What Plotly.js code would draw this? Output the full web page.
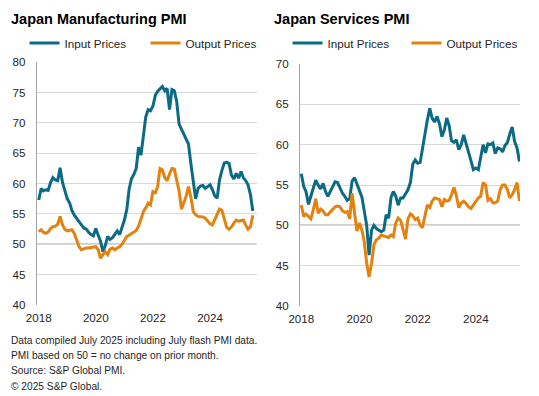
<!DOCTYPE html>
<html>
<head>
<meta charset="utf-8">
<script src="https://cdn.plot.ly/plotly-3.0.1.min.js"></script>
<style>html,body{margin:0;padding:0;background:#fff;}#chart{width:539px;height:396px;}</style>
</head>
<body>
<div id="chart"></div>
<script>
// Monthly observations, Jan 2018 .. Jul 2025
const startYear = 2018;
const nMonths = 91;
const months = [];
for (let i = 0; i < nMonths; i++) {
  const y = startYear + Math.floor(i / 12), m = (i % 12) + 1;
  months.push(y + '-' + String(m).padStart(2, '0') + '-01');
}

const seriesNames = ['Input Prices', 'Output Prices'];
const panelTitles = ['Japan Manufacturing PMI', 'Japan Services PMI'];
const xTickVals = ['2018-01-01', '2020-01-01', '2022-01-01', '2024-01-01'];
const xTickText = ['2018', '2020', '2022', '2024'];
const footnotes = [
  'Data compiled July 2025 including July flash PMI data.',
  'PMI based on 50 = no change on prior month.',
  'Source: S&P Global PMI.',
  '\u00A9 2025 S&P Global.'
];

const mfgInput = [
  57.3, 59.2, 58.8, 59.0, 58.9, 60.2, 61.0, 60.6, 60.5, 62.6, 60.2, 59.0,
  57.5, 56.8, 55.6, 54.8, 54.2, 53.8, 53.2, 52.7, 52.5, 52.0, 51.6, 51.4,
  52.6, 51.5, 50.5, 48.8, 49.8, 51.3, 50.8, 51.1, 51.6, 52.2, 51.6, 52.8,
  54.0, 55.8, 59.0, 60.8, 61.5, 62.5, 66.0, 64.7, 67.5, 71.0, 72.2, 72.0,
  72.8, 74.6, 75.2, 75.7, 76.0, 75.3, 75.7, 72.2, 75.5, 75.3, 73.5, 69.8,
  68.9, 68.2, 67.2, 66.5, 63.3, 60.0, 57.5, 59.2, 59.6, 59.7, 59.2, 59.5,
  59.8, 59.0, 58.0, 57.6, 60.6, 62.2, 63.4, 63.5, 63.3, 61.4, 60.8, 61.7,
  60.9, 62.0, 61.0, 60.5, 59.8, 58.2, 55.5
];
const mfgOutput = [
  52.1, 52.4, 52.0, 51.8, 52.0, 52.6, 52.9, 53.0, 53.3, 54.6, 53.2, 52.5,
  52.2, 52.3, 52.4, 51.8, 50.8, 49.6, 49.1, 49.3, 49.4, 49.4, 49.5, 49.6,
  49.6, 49.1, 47.7, 48.3, 48.8, 48.3, 49.2, 49.4, 49.1, 49.4, 49.6, 50.0,
  50.7, 51.3, 51.5, 51.8, 52.0, 52.3, 53.0, 54.2, 55.4, 56.0, 56.8, 56.5,
  58.7, 58.5, 59.5, 62.5, 62.3, 61.0, 60.5, 61.6, 62.5, 62.4, 60.6, 58.8,
  55.8, 57.0, 57.9, 59.5, 57.8, 55.4, 54.9, 54.6, 54.6, 54.5, 54.3, 53.8,
  53.4, 53.2, 54.0, 55.0, 55.8, 55.6, 54.4, 52.8, 52.5, 52.9, 53.5, 54.0,
  53.8, 53.9, 54.0, 53.2, 52.5, 52.9, 54.8
];
const svcInput = [
  56.4, 54.8, 54.2, 52.6, 53.6, 54.6, 55.6, 55.0, 54.5, 55.2, 54.2, 53.6,
  54.2, 55.0, 55.4, 55.3, 54.6, 54.0, 53.6, 53.1, 53.3, 55.5, 55.9, 55.0,
  54.3, 53.5, 51.7, 50.0, 46.3, 49.4, 50.0, 49.6, 49.4, 49.2, 49.4, 51.3,
  50.9, 53.5, 54.2, 53.6, 52.5, 53.4, 53.4, 54.0, 54.4, 55.3, 57.6, 58.1,
  57.7, 57.8, 59.5, 61.4, 63.0, 64.5, 63.3, 62.8, 63.5, 62.6, 61.0, 61.8,
  63.3, 62.3, 60.5, 60.3, 60.6, 59.4, 60.0, 61.2, 60.2, 59.2, 58.0, 56.9,
  57.1, 56.9, 58.2, 60.0, 59.0, 60.1, 60.0, 60.2, 58.9, 59.6, 59.5, 59.1,
  59.9, 60.3, 61.3, 62.2, 60.4, 59.6, 57.9
];
const svcOutput = [
  52.5, 51.1, 51.4, 51.1, 50.8, 51.9, 53.3, 51.5, 52.0, 51.8, 51.3, 51.3,
  51.7, 52.0, 52.3, 52.4, 52.3, 51.8, 51.6, 51.7, 50.8, 54.0, 51.5, 49.3,
  50.3, 49.4, 48.0, 45.3, 43.6, 45.3, 47.6, 48.2, 48.4, 48.8, 48.7, 48.6,
  48.5, 48.8, 48.6, 50.3, 50.9, 50.6, 49.5, 48.3, 50.8, 51.4, 51.2, 50.7,
  50.9, 50.0, 49.7, 51.0, 52.5, 52.2, 53.0, 53.4, 53.3, 53.2, 52.3, 53.2,
  53.0, 53.1, 53.8, 54.7, 53.7, 52.2, 52.8, 53.0, 52.7, 52.3, 52.1, 52.5,
  53.0, 53.4, 53.6, 55.3, 55.0, 53.1, 53.3, 52.8, 52.8, 53.0, 54.4, 55.0,
  55.0, 54.4, 53.4, 53.8, 54.4, 55.3, 53.0
];

const TEAL = '#0b6b85';
const ORANGE = '#e3820f';
const W = 539, H = 396;
const px = v => v / W, py = v => 1 - v / H;

function trace(y, name, color, xa, ya, legend) {
  return {x: months, y: y, name: name, type: 'scatter', mode: 'lines',
    line: {color: color, width: 3}, xaxis: xa, yaxis: ya, legend: legend,
    hoverinfo: 'skip'};
}
const data = [
  trace(mfgInput, seriesNames[0], TEAL, 'x', 'y', 'legend'),
  trace(mfgOutput, seriesNames[1], ORANGE, 'x', 'y', 'legend'),
  trace(svcInput, seriesNames[0], TEAL, 'x2', 'y2', 'legend2'),
  trace(svcOutput, seriesNames[1], ORANGE, 'x2', 'y2', 'legend2')
];

const FONT = 'Liberation Sans, Arial, sans-serif';
const tickFont = {family: FONT, size: 11.6, color: '#262626'};
function xaxis(domain, range, anchor) {
  return {domain: domain, range: range, anchor: anchor, type: 'date',
    tickvals: xTickVals, ticktext: xTickText, showgrid: false, zeroline: false,
    showline: false, ticks: '', tickfont: tickFont, ticklabelstandoff: 4, fixedrange: true};
}
function yaxis(domain, range, anchor) {
  return {domain: domain, range: range, anchor: anchor, dtick: 5, tick0: 40,
    showgrid: true, gridcolor: '#d9d9d9', gridwidth: 1, zeroline: false,
    showline: true, linecolor: '#a6a6a6', linewidth: 1, ticks: '',
    tickfont: tickFont, ticklabelstandoff: 8, fixedrange: true};
}

const annotations = [
  {text: '<b>' + panelTitles[0] + '</b>', x: px(9), y: py(18.5)},
  {text: '<b>' + panelTitles[1] + '</b>', x: px(272), y: py(18.5)}
].map(a => Object.assign(a, {xref: 'paper', yref: 'paper', xanchor: 'left', yanchor: 'middle',
  showarrow: false, font: {family: FONT, size: 14.5, color: '#000'}}));
const footY = [340.5, 355.7, 370.9, 386.1];
footnotes.forEach((t, i) => annotations.push({text: t, xref: 'paper', yref: 'paper',
  x: px(9), y: py(footY[i]), xanchor: 'left', yanchor: 'middle', showarrow: false,
  font: {family: FONT, size: 10.2, color: '#262626'}}));

const legendBase = {orientation: 'h', xanchor: 'left', yanchor: 'middle', y: py(43),
  font: {family: FONT, size: 11.7, color: '#262626'}, bgcolor: 'rgba(0,0,0,0)',
  borderwidth: 0, entrywidth: 76, entrywidthmode: 'pixels', itemclick: false, itemdoubleclick: false};

const layout = {
  width: W, height: H, autosize: false,
  margin: {l: 0, r: 0, t: 0, b: 0, pad: 0},
  paper_bgcolor: '#fff', plot_bgcolor: '#fff',
  showlegend: true,
  legend: Object.assign({}, legendBase, {x: px(24.5)}),
  legend2: Object.assign({}, legendBase, {x: px(287.5), entrywidth: 74}),
  xaxis: xaxis([px(36.7), px(256.7)], ['2017-12-06', '2025-08-20'], 'y'),
  yaxis: yaxis([1 - 305 / H, 1 - 62.3 / H], [40, 80], 'x'),
  xaxis2: xaxis([px(300), px(520)], ['2017-12-16', '2025-07-08'], 'y2'),
  yaxis2: yaxis([1 - 306 / H, 1 - 64 / H], [40, 70], 'x2'),
  shapes: [
    {type: 'line', xref: 'x domain', yref: 'y', x0: 0, x1: 1, y0: 50, y1: 50,
      line: {color: '#a0a0a0', width: 1.5}, layer: 'below'},
    {type: 'line', xref: 'x2 domain', yref: 'y2', x0: 0, x1: 1, y0: 50, y1: 50,
      line: {color: '#a0a0a0', width: 1.5}, layer: 'below'}
  ],
  annotations: annotations
};

Plotly.newPlot('chart', data, layout, {displayModeBar: false, staticPlot: true});
</script>
</body>
</html>
